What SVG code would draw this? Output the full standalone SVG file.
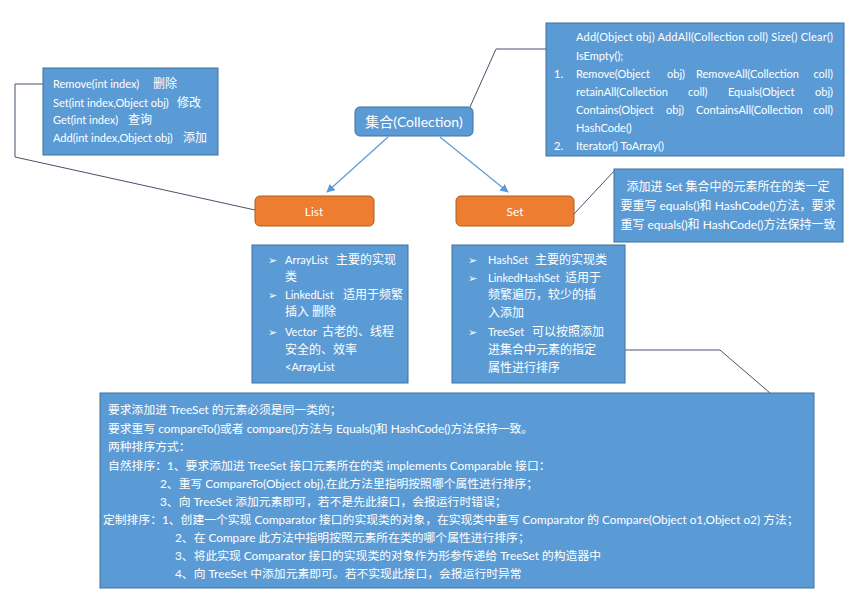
<svg xmlns="http://www.w3.org/2000/svg" width="863" height="599" viewBox="0 0 863 599">
<defs>
<style>
.box{fill:#5b9bd5;stroke:#41719c;stroke-width:1}
.org{fill:#ed7d31;stroke:#ae5a21;stroke-width:1}
.t{font-family:Lato,"Noto Sans CJK SC",sans-serif;font-size:11px;fill:#ffffff}
.c{font-family:Lato,"Noto Sans CJK SC",sans-serif;font-size:12px;fill:#ffffff}
.b{font-family:Lato,"Noto Sans CJK SC",sans-serif;font-size:11.8px;fill:#ffffff}
.tc{font-family:Lato,"Noto Sans CJK SC",sans-serif;font-size:12px;fill:#ffffff;text-anchor:middle}
.title{font-family:Lato,"Noto Sans CJK SC",sans-serif;font-size:14px;fill:#ffffff;text-anchor:middle}
.call{fill:none;stroke:#44546a;stroke-width:1}
.arr{fill:none;stroke:#5b9bd5;stroke-width:1.2}
</style>
<marker id="ah" viewBox="0 0 10 10" refX="9" refY="5" markerWidth="7" markerHeight="7" orient="auto">
<path d="M0,0 L10,5 L0,10 z" fill="#5b9bd5"/>
</marker>
</defs>
<rect width="863" height="599" fill="#ffffff"/>

<g id="connectors">
<polyline class="call" points="43,84 15,84 15,157 255,210"/>
<polyline class="call" points="470,107 496,49 546,49"/>
<polyline class="call" points="574,214 615,170"/>
<polyline class="call" points="625,350 720,350 770,393"/>
<line class="arr" x1="388" y1="137" x2="327" y2="192" marker-end="url(#ah)"/>
<line class="arr" x1="440" y1="137" x2="508" y2="192" marker-end="url(#ah)"/>
</g>

<g id="list-methods">
<rect class="box" x="43" y="68" width="175" height="87"/>
<text class="t" x="53" y="88">Remove(int index)</text><text class="c" x="153" y="88">删除</text>
<text class="t" x="53" y="107">Set(int index,Object obj)</text><text class="c" x="177" y="107">修改</text>
<text class="t" x="53" y="124">Get(int index)</text><text class="c" x="128" y="124">查询</text>
<text class="t" x="53" y="142">Add(int index,Object obj)</text><text class="c" x="183" y="142">添加</text>
</g>

<g id="collection-methods">
<rect class="box" x="546" y="23" width="298" height="133"/>
<text class="t" x="576" y="41" textLength="257" lengthAdjust="spacing">Add(Object obj) AddAll(Collection coll) Size() Clear()</text>
<text class="t" x="576" y="60">IsEmpty();</text>
<text class="t" x="554" y="78">1.</text>
<text class="t" x="576" y="78">Remove(Object</text><text class="t" x="667" y="78">obj)</text><text class="t" x="696" y="78">RemoveAll(Collection</text><text class="t" x="833" y="78" text-anchor="end">coll)</text>
<text class="t" x="576" y="96">retainAll(Collection</text><text class="t" x="688" y="96">coll)</text><text class="t" x="728" y="96">Equals(Object</text><text class="t" x="833" y="96" text-anchor="end">obj)</text>
<text class="t" x="576" y="114">Contains(Object</text><text class="t" x="666" y="114">obj)</text><text class="t" x="696" y="114">ContainsAll(Collection</text><text class="t" x="833" y="114" text-anchor="end">coll)</text>
<text class="t" x="576" y="132">HashCode()</text>
<text class="t" x="554" y="150">2.</text>
<text class="t" x="576" y="150">Iterator() ToArray()</text>
</g>

<g id="collection">
<rect class="box" x="355" y="107" width="118" height="29" rx="5"/>
<text class="title" x="414" y="127">集合(Collection)</text>
</g>

<g id="list">
<rect class="org" x="255" y="196" width="119" height="30" rx="5"/>
<text class="title" x="314" y="216" style="font-size:12px">List</text>
</g>

<g id="set">
<rect class="org" x="456" y="196" width="118" height="30" rx="5"/>
<text class="title" x="515" y="216" style="font-size:12px">Set</text>
</g>

<g id="set-note">
<rect class="box" x="614" y="169" width="229" height="73"/>
<text class="tc" x="728" y="191">添加进 Set 集合中的元素所在的类一定</text>
<text class="tc" x="728" y="210">要重写 equals()和 HashCode()方法，要求</text>
<text class="tc" x="728" y="229">重写 equals()和 HashCode()方法保持一致</text>
</g>

<g id="list-impl">
<rect class="box" x="252" y="245" width="156" height="138"/>
<text class="t" x="268" y="264">➢</text><text class="t" x="285" y="264">ArrayList</text><text class="c" x="336" y="264">主要的实现</text>
<text class="c" x="285" y="281">类</text>
<text class="t" x="268" y="299">➢</text><text class="t" x="285" y="299">LinkedList</text><text class="c" x="343" y="299">适用于频繁</text>
<text class="c" x="285" y="316">插入 删除</text>
<text class="t" x="268" y="336">➢</text><text class="t" x="285" y="336">Vector</text><text class="c" x="322" y="336">古老的、线程</text>
<text class="c" x="285" y="354">安全的、效率</text>
<text class="t" x="285" y="371">&lt;ArrayList</text>
</g>

<g id="set-impl">
<rect class="box" x="452" y="245" width="173" height="138"/>
<text class="t" x="468" y="264">➢</text><text class="t" x="488" y="264">HashSet</text><text class="c" x="535" y="264">主要的实现类</text>
<text class="t" x="468" y="282">➢</text><text class="t" x="488" y="282">LinkedHashSet</text><text class="c" x="565" y="282">适用于</text>
<text class="c" x="488" y="299">频繁遍历，较少的插</text>
<text class="c" x="488" y="317">入添加</text>
<text class="t" x="468" y="336">➢</text><text class="t" x="488" y="336">TreeSet</text><text class="c" x="532" y="336">可以按照添加</text>
<text class="c" x="488" y="354">进集合中元素的指定</text>
<text class="c" x="488" y="372">属性进行排序</text>
</g>

<g id="treeset-note">
<rect class="box" x="100" y="393" width="714" height="195"/>
<text class="b" x="108" y="414">要求添加进 TreeSet 的元素必须是同一类的；</text>
<text class="b" x="108" y="433">要求重写 compareTo()或者 compare()方法与 Equals()和 HashCode()方法保持一致。</text>
<text class="b" x="108" y="451">两种排序方式：</text>
<text class="b" x="108" y="470">自然排序：1、要求添加进 TreeSet 接口元素所在的类 implements Comparable 接口：</text>
<text class="b" x="160" y="488">2、重写 CompareTo(Object obj),在此方法里指明按照哪个属性进行排序；</text>
<text class="b" x="160" y="506">3、向 TreeSet 添加元素即可，若不是先此接口，会报运行时错误；</text>
<text class="b" x="103" y="524">定制排序：1、创建一个实现 Comparator 接口的实现类的对象，在实现类中重写 Comparator 的 Compare(Object o1,Object o2) 方法；</text>
<text class="b" x="175" y="542">2、在 Compare 此方法中指明按照元素所在类的哪个属性进行排序；</text>
<text class="b" x="175" y="560">3、将此实现 Comparator 接口的实现类的对象作为形参传递给 TreeSet 的构造器中</text>
<text class="b" x="175" y="578">4、向 TreeSet 中添加元素即可。若不实现此接口，会报运行时异常</text>
</g>
</svg>
